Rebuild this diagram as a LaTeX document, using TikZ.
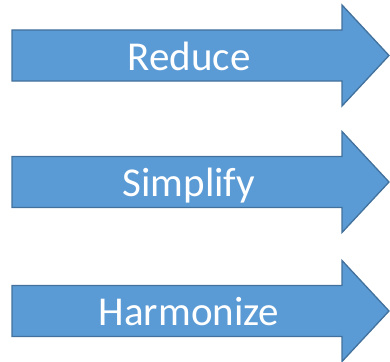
\documentclass[tikz,border=0pt]{standalone}
\usepackage{fontspec}
\setmainfont{Carlito}
\definecolor{arrfill}{HTML}{5B9BD5}
\definecolor{arrline}{HTML}{41719C}
\tikzset{
  bigarrow/.style={fill=arrfill, draw=arrline, line width=1.3pt, line join=miter},
  arrlabel/.style={text=white, font=\fontsize{41}{44}\selectfont, anchor=base, inner sep=0pt}
}
\begin{document}
\begin{tikzpicture}[x=1pt,y=-1pt]
\useasboundingbox (0,0) rectangle (390,361);
\foreach \c/\t/\n [count=\i] in {55.5/Reduce/a, 182/Simplify/b, 311/Harmonize/c}{
  \draw[bigarrow] (12,\c-25.5) -- (342,\c-25.5) -- (342,\c-50.5) -- (389,\c) -- (342,\c+50.5) -- (342,\c+25.5) -- (12,\c+25.5) -- cycle;
  \node[arrlabel] (\n) at (189,\c+14.5) {\t};
}
\end{tikzpicture}
\end{document}
